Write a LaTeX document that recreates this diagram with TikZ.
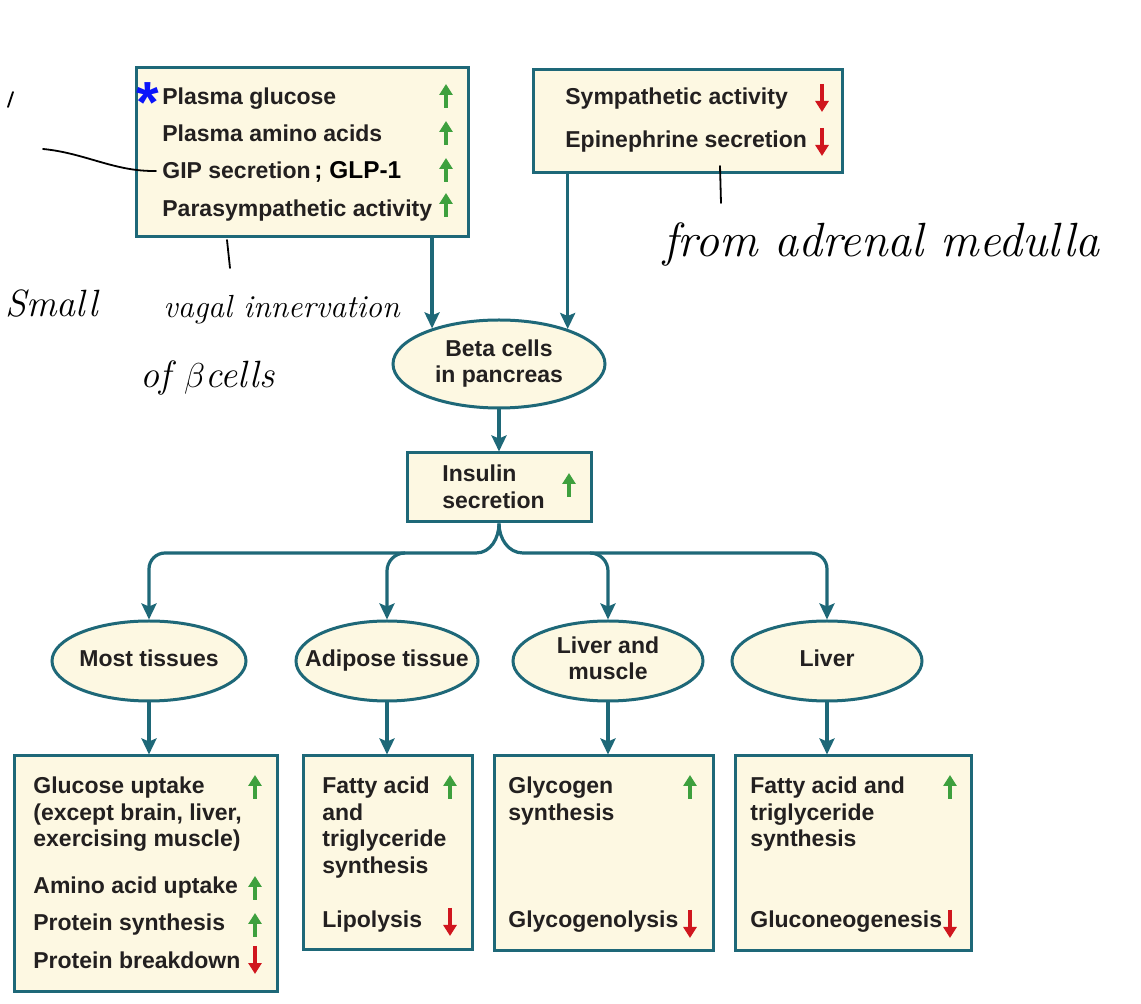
\documentclass[tikz,border=0pt]{standalone}
\usepackage{fontspec}
\usetikzlibrary{arrows.meta,fit,positioning,shapes.geometric}
\newfontfamily\diag{Liberation Sans}
\definecolor{rim}{RGB}{30,104,120}
\definecolor{cream}{RGB}{253,248,226}
\definecolor{ink}{RGB}{35,32,32}
\definecolor{upgreen}{RGB}{62,160,62}
\definecolor{downred}{RGB}{208,22,30}
\definecolor{starblue}{RGB}{10,20,250}
\newcommand\lines[1]{\begin{tabular}[t]{@{}l@{}}#1\end{tabular}}
\newcommand\ovaltext[1]{\makebox[0pt]{\begin{tabular}{@{}c@{}}#1\end{tabular}}}
\newcommand\hand[1]{\fontsize{#1}{#1}\selectfont\itshape}
\newcommand\rise[2]{\draw[upmark] (#1,#2+12) -- (#1,#2-12);}
\newcommand\fall[2]{\draw[downmark] (#1,#2-14) -- (#1,#2+14);}
\tikzset{
  panel/.style={draw=rim, fill=cream, line width=1.5pt, inner sep=0pt},
  oval/.style={ellipse, draw=rim, fill=cream, line width=1.5pt, inner sep=0pt,
    font=\fontsize{11.5}{13}\diag\bfseries, text=ink},
  item/.style={font=\fontsize{11.5}{13.25}\diag\bfseries, text=ink, inner sep=0pt, anchor=base west},
  flow/.style={draw=rim, line width=1.6pt, -{Stealth[length=8pt,width=7.5pt,inset=1.5pt]}},
  link/.style={draw=rim, line width=1.6pt},
  upmark/.style={draw=upgreen, line width=2.3pt, -{Triangle[length=5.5pt,width=6.5pt]}},
  downmark/.style={draw=downred, line width=2.3pt, -{Triangle[length=5.5pt,width=6.5pt]}},
  scrawl/.style={inner sep=0pt, anchor=base west, text=black},
  pen/.style={black, line width=0.9pt, line cap=round},
}
\begin{document}
\begin{tikzpicture}[x=0.5pt,y=-0.5pt]
  \useasboundingbox[fill=white] (0,0) rectangle (1141,1004);

  % stimuli
  \node[panel, fit={(136,68) (468,237)}] (stim) {};
  \node[item] (glu) at (162,105) {Plasma glucose};
  \node[item] (amino) at (162,142) {Plasma amino acids};
  \node[item] (gip) at (162,179) {GIP secretion};
  \node[item, font=\fontsize{12.2}{14}\diag\bfseries, text=black, base right=1.5pt of gip] (glp) {; GLP-1};
  \node[item] (para) at (162,217) {Parasympathetic activity};
  \node[text=starblue, inner sep=0pt, anchor=base, font=\fontsize{29}{29}\diag\bfseries] (star) at (148,123) {*};
  \rise{446}{96} \rise{446}{133} \rise{446}{170} \rise{446}{205}

  \node[panel, fit={(533,70) (842,173)}] (symp) {};
  \node[item] (sympact) at (565,105) {Sympathetic activity};
  \node[item] (epi) at (565,148) {Epinephrine secretion};
  \fall{822}{98} \fall{822}{142}

  % beta cells and insulin
  \node[oval, minimum width=106pt, minimum height=44pt] (beta) at (499,364) {\ovaltext{Beta cells\\in pancreas}};
  \node[panel, fit={(407,453) (591,522)}] (ins) {};
  \node[item] (instxt) at (442,482) {\lines{Insulin\\secretion}};
  \rise{569}{485}

  \draw[flow] (stim.south -| beta.152) -- (beta.152);
  \draw[flow] (symp.south -| beta.27) -- (beta.27);
  \draw[flow] (beta.south) -- (ins.north);

  % target tissues
  \node[oval, minimum width=97pt, minimum height=40pt] (most) at (149,661) {\ovaltext{Most tissues}};
  \node[oval, minimum width=91pt, minimum height=40pt] (adip) at (387,661) {\ovaltext{Adipose tissue}};
  \node[oval, minimum width=95pt, minimum height=40pt] (livmus) at (608,661) {\ovaltext{Liver and\\muscle}};
  \node[oval, minimum width=95pt, minimum height=40pt] (liver) at (827,661) {\ovaltext{Liver}};

  \coordinate (hubL) at (476,553);
  \coordinate (hubR) at (523,553);
  \draw[link] (ins.south) to[out=270,in=0] (hubL);
  \draw[link] (ins.south) to[out=270,in=180] (hubR);
  \draw[flow, rounded corners=8pt] (hubL) -- (most.north |- hubL) -- (most.north);
  \draw[flow, rounded corners=8pt] (hubR) -- (liver.north |- hubR) -- (liver.north);
  \draw[flow] (adip.north |- hubL) ++(18,0) to[out=180,in=90] ++(-18,18) -- (adip.north);
  \draw[flow] (livmus.north |- hubR) ++(-18,0) to[out=0,in=90] ++(18,18) -- (livmus.north);

  % effects
  \node[panel, fit={(14,756) (277,991)}] (effmost) {};
  \node[item] (gluup) at (33,794) {\lines{Glucose uptake\\(except brain, liver,\\exercising muscle)}};
  \node[item] (aaup) at (33,894) {Amino acid uptake};
  \node[item] (psyn) at (33,931) {Protein synthesis};
  \node[item] (pbrk) at (33,968) {Protein breakdown};
  \rise{255}{787} \rise{255}{888} \rise{255}{925} \fall{255}{960}

  \node[panel, fit={(303,756) (472,950)}] (effadip) {};
  \node[item] (fat1) at (322,794) {\lines{Fatty acid\\and\\triglyceride\\synthesis}};
  \node[item] (lipo) at (322,928) {Lipolysis};
  \rise{450}{787} \fall{450}{922}

  \node[panel, fit={(494,756) (713,951)}] (efflm) {};
  \node[item] (glysyn) at (508,794) {\lines{Glycogen\\synthesis}};
  \node[item] (glylys) at (508,928) {Glycogenolysis};
  \rise{690}{787} \fall{690}{924}

  \node[panel, fit={(735,756) (971,951)}] (effliv) {};
  \node[item] (fat2) at (750,794) {\lines{Fatty acid and\\triglyceride\\synthesis}};
  \node[item] (gneo) at (750,928) {Gluconeogenesis};
  \rise{950}{787} \fall{950}{924}

  \draw[flow] (most.south) -- (most.south |- effmost.north);
  \draw[flow] (adip.south) -- (adip.south |- effadip.north);
  \draw[flow] (livmus.south) -- (livmus.south |- efflm.north);
  \draw[flow] (liver.south) -- (liver.south |- effliv.north);

  % handwritten notes
  \coordinate (penstart) at (43,149);
  \draw[pen] (13,92) -- (8,107);
  \draw[pen, shorten >=3pt] (penstart) .. controls (85,153) and (115,172) .. (gip.west);
  \draw[pen] (227,240) -- (230,268);
  \draw[pen] (720,166) -- (721,203);
  \node[scrawl, font=\hand{19}] (small) at (5,317) {Small};
  \node[scrawl, font=\hand{16}] (vagal) at (163,318) {vagal innervation};
  \node[scrawl, font=\hand{19}] (ofbeta) at (140,388) {of $\beta$cells};
  \node[scrawl, font=\hand{24}] (adrenal) at (663,257) {from adrenal medulla};
\end{tikzpicture}
\end{document}
